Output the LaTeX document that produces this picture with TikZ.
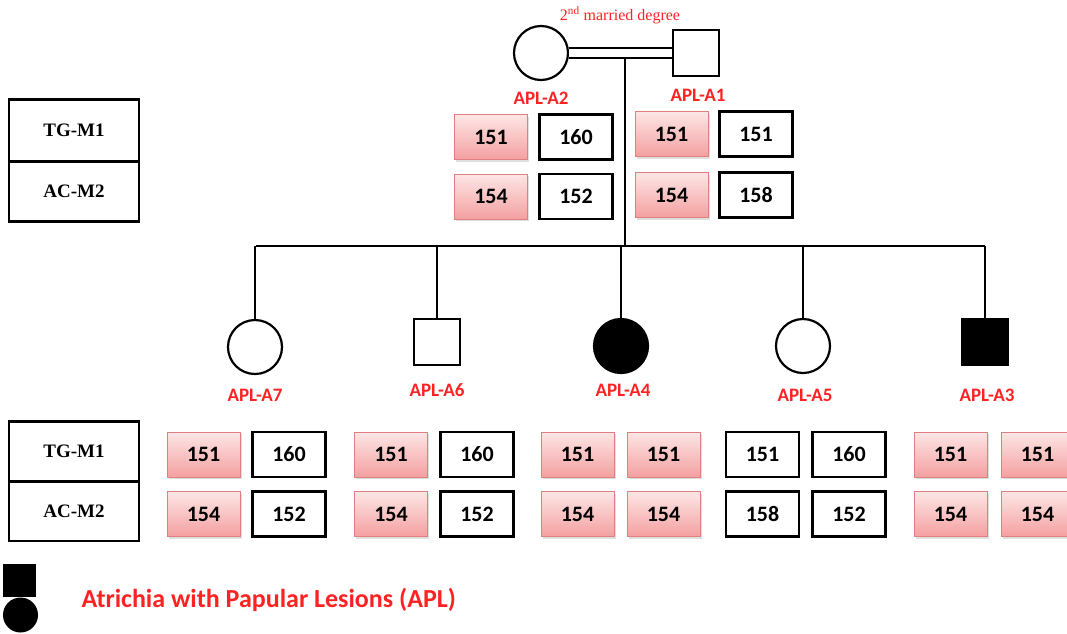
\documentclass[tikz,border=0pt]{standalone}
\usepackage{fontspec}
\newfontfamily\calib{Carlito}
\newfontfamily\tnr{Liberation Serif}
\usetikzlibrary{shadows}

\definecolor{aplred}{HTML}{FF2222}
\definecolor{pinktop}{HTML}{FDE6E6}
\definecolor{pinkbot}{HTML}{F4A0A0}
\definecolor{pinkline}{HTML}{DF8080}

\tikzset{
	person/.style={draw, line width=2.2pt, inner sep=0pt},
	male/.style={person, rectangle, minimum size=46pt},
	female/.style={person, circle, minimum size=54pt},
	affected/.style={fill=black},
	aplname/.style={text=aplred, font=\calib\bfseries\fontsize{19}{19}\selectfont},
	allele/.style={minimum width=73pt, minimum height=45pt, inner sep=0pt,
		font=\calib\bfseries\fontsize{22}{22}\selectfont},
	pinkal/.style={allele, draw=pinkline, line width=1pt, top color=pinktop, bottom color=pinkbot,
		drop shadow={shadow xshift=1.5pt, shadow yshift=-2pt, opacity=0.25}},
	whiteal/.style={allele, draw, line width=2.6pt},
	marker/.style={draw, line width=2.6pt, minimum width=130pt, inner sep=0pt,
		font=\tnr\bfseries\fontsize{19}{19}\selectfont},
	line/.style={line width=1.3pt}
}

\begin{document}
\begin{tikzpicture}[x=1pt,y=-1pt]
	\clip (0,0) rectangle (1067,633);

	% parents
	\node[female] (A2) at (541,53) {};
	\node[male] (A1) at (696,53) {};
	\node[text=aplred, font=\tnr\fontsize{16}{16}\selectfont] (deg) at (620,15) {2\textsuperscript{nd} married degree};
	\node[aplname] (A2l) at (541,98) {APL-A2};
	\node[aplname] (A1l) at (698,95) {APL-A1};
	\draw[line, double, double distance=8.5pt] (A2) -- (A1);

	% marker labels
	\node[marker, minimum height=62pt] (mk1) at (74,130.5) {TG-M1};
	\node[marker, minimum height=60pt] (mk2) at (74,191.5) {AC-M2};
	\node[marker, minimum height=60pt] (mk3) at (74,451.5) {TG-M1};
	\node[marker, minimum height=60pt] (mk4) at (74,511) {AC-M2};

	% parent alleles
	\node[pinkal] (A2t1) at (491,137) {151};
	\node[whiteal] (A2t2) at (576,137) {160};
	\node[pinkal] (A2c1) at (491,196.5) {154};
	\node[whiteal] (A2c2) at (576,196.5) {152};
	\node[pinkal] (A1t1) at (671.5,134) {151};
	\node[whiteal] (A1t2) at (756,134) {151};
	\node[pinkal] (A1c1) at (671.5,195) {154};
	\node[whiteal] (A1c2) at (756,195) {158};

	% sibship
	\coordinate (mate) at (625,58.5);
	\coordinate (sib) at (625,246);
	\coordinate (sibL) at (256,246);
	\coordinate (sibR) at (985,246);
	\draw[line] (mate) -- (sib);
	\draw[line] (sibL) -- (sibR);

	% children
	\node[female] (A7) at (255,347) {};
	\node[male] (A6) at (437,342) {};
	\node[female, affected] (A4) at (621,346) {};
	\node[female] (A5) at (803,346) {};
	\node[male, affected] (A3) at (985,342) {};
	\foreach \c in {A7,A6,A4,A5,A3}
		\draw[line] (\c |- sib) -- (\c);

	\node[aplname] (A7l) at (255,395) {APL-A7};
	\node[aplname] (A6l) at (437,390) {APL-A6};
	\node[aplname] (A4l) at (623,390) {APL-A4};
	\node[aplname] (A5l) at (805,395) {APL-A5};
	\node[aplname] (A3l) at (987,395) {APL-A3};

	% children alleles
	\node[pinkal] (A7t1) at (203.5,454.5) {151};
	\node[whiteal] (A7t2) at (289,454.5) {160};
	\node[pinkal] (A7c1) at (203.5,514) {154};
	\node[whiteal] (A7c2) at (289,514) {152};

	\node[pinkal] (A6t1) at (391,454.5) {151};
	\node[whiteal] (A6t2) at (477,454.5) {160};
	\node[pinkal] (A6c1) at (391,514) {154};
	\node[whiteal] (A6c2) at (477,514) {152};

	\node[pinkal] (A4t1) at (577.5,454.5) {151};
	\node[pinkal] (A4t2) at (663.5,454.5) {151};
	\node[pinkal] (A4c1) at (577.5,514) {154};
	\node[pinkal] (A4c2) at (663.5,514) {154};

	\node[whiteal] (A5t1) at (762.5,454.5) {151};
	\node[whiteal] (A5t2) at (849,454.5) {160};
	\node[whiteal] (A5c1) at (762.5,514) {158};
	\node[whiteal] (A5c2) at (849,514) {152};

	\node[pinkal] (A3t1) at (950.5,454.5) {151};
	\node[pinkal] (A3t2) at (1037.5,454.5) {151};
	\node[pinkal] (A3c1) at (950.5,514) {154};
	\node[pinkal] (A3c2) at (1037.5,514) {154};

	% key
	\node[rectangle, fill=black, minimum size=33pt, inner sep=0pt] (keym) at (19.5,580.5) {};
	\node[circle, fill=black, minimum size=35pt, inner sep=0pt] (keyf) at (20.5,615) {};
	\node[anchor=west, text=aplred, font=\calib\bfseries\fontsize{26}{26}\selectfont] (keyt) at (78,600) {Atrichia with Papular Lesions (APL)};
\end{tikzpicture}
\end{document}
